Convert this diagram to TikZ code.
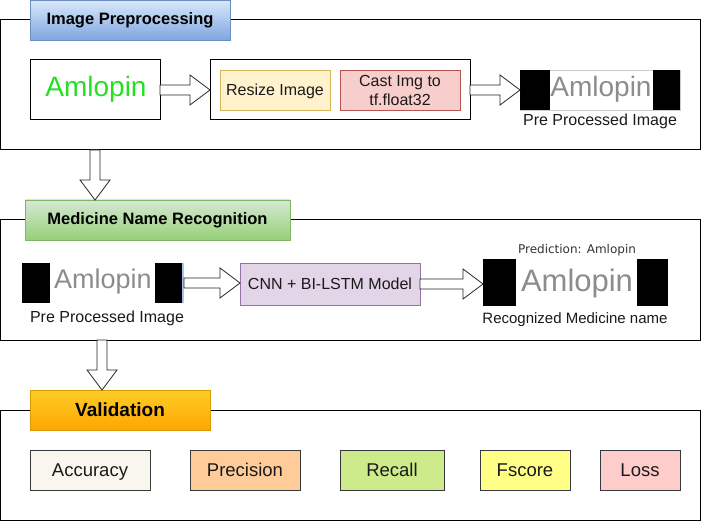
\documentclass[tikz,border=0pt]{standalone}
\usepackage{fontspec}
\setmainfont{Liberation Sans}
\newfontfamily\dejavu{DejaVu Sans}
\usetikzlibrary{calc}
\definecolor{txt}{HTML}{1A1A1A}
\definecolor{hwgreen}{HTML}{22E022}
\definecolor{hwgray}{HTML}{8C8C8C}
\definecolor{bluetop}{HTML}{DAE8FC}
\definecolor{bluebot}{HTML}{7EA6E0}
\definecolor{blueedge}{HTML}{6C8EBF}
\definecolor{greentop}{HTML}{D5E8D4}
\definecolor{greenbot}{HTML}{97D077}
\definecolor{greenedge}{HTML}{82B366}
\definecolor{orangetop}{HTML}{FFCD28}
\definecolor{orangebot}{HTML}{FFA500}
\definecolor{orangeedge}{HTML}{D79B00}
\definecolor{yellowfill}{HTML}{FFF2CC}
\definecolor{yellowedge}{HTML}{D6B656}
\definecolor{redfill}{HTML}{F8CECC}
\definecolor{rededge}{HTML}{B85450}
\definecolor{purplefill}{HTML}{E1D5E7}
\definecolor{purpleedge}{HTML}{9673A6}
\definecolor{metricedge}{HTML}{36393D}
\definecolor{accfill}{HTML}{F9F7ED}
\definecolor{precfill}{HTML}{FFCC99}
\definecolor{recfill}{HTML}{CDEB8B}
\definecolor{fscfill}{HTML}{FFFF88}
\definecolor{lossfill}{HTML}{FFCCCC}
\definecolor{stripblue}{HTML}{A9C4EB}
\newcommand{\hblockarrow}[2]{%
  \coordinate (hatip) at (#1 -| #2);
  \draw[blockarrow] ($(#1)+(0,-5)$) -- ($(hatip)+(-20,-5)$) -- ($(hatip)+(-20,-15)$) -- (hatip)
    -- ($(hatip)+(-20,15)$) -- ($(hatip)+(-20,5)$) -- ($(#1)+(0,5)$) -- cycle;}
\newcommand{\vblockarrow}[2]{%
  \coordinate (vatip) at (#1 |- #2);
  \draw[blockarrow] ($(#1)+(-5,0)$) -- ($(vatip)+(-5,-20)$) -- ($(vatip)+(-15,-20)$) -- (vatip)
    -- ($(vatip)+(15,-20)$) -- ($(vatip)+(5,-20)$) -- ($(#1)+(5,0)$) -- cycle;}
\begin{document}
\begin{tikzpicture}[x=1pt,y=-1pt,
  every node/.style={inner sep=0pt, outer sep=0pt, anchor=north west, text=txt},
  frame/.style={draw=black, line width=1pt},
  titlebox/.style={draw, line width=0.8pt, font=\fontsize{16.5}{19}\selectfont\bfseries, text=black, text height=12pt, text depth=2pt},
  sbox/.style={draw, line width=0.8pt, align=center, font=\fontsize{16}{19}\selectfont},
  oneline/.style={text height=12pt, text depth=0pt},
  metric/.style={draw=metricedge, line width=0.8pt, minimum height=40pt, font=\fontsize{18.5}{22}\selectfont, text height=13.3pt, text depth=1.3pt},
  blackblk/.style={fill=black, draw=none},
  hand/.style={anchor=center, font=\fontsize{#1}{#1}\selectfont, text=hwgray},
  caption/.style={anchor=center, font=\fontsize{16}{19}\selectfont},
  blockarrow/.style={draw=black!85, fill=white, line width=0.8pt, line join=miter}
]
\useasboundingbox (0,0) rectangle (701,521);

% ---------- Image Preprocessing ----------
\node[frame, minimum width=700pt, minimum height=130pt] (f1) at (0,20) {};
\node[titlebox, draw=blueedge, top color=bluetop, bottom color=bluebot, minimum width=200pt, minimum height=40pt] (t1) at (30,0) {Image Preprocessing};

\node[draw=black, line width=1pt, minimum width=130pt, minimum height=60pt] (hw) at (30,60) {};
\node[hand=28, text=hwgreen] (hwtext) at (96,89) {Amlopin};

\node[draw=black, line width=1pt, minimum width=260pt, minimum height=60pt] (cont) at (210,60) {};
\node[sbox, oneline, fill=yellowfill, draw=yellowedge, minimum width=110pt, minimum height=40pt] (resize) at (220,70) {Resize Image};
\node[sbox, fill=redfill, draw=rededge, minimum width=120pt, minimum height=40pt] (cast) at (340,70) {Cast Img to\\tf.float32};

\node[draw=black!20, line width=0.8pt, minimum width=160pt, minimum height=40pt] (pp1) at (520,70) {};
\node[blackblk, minimum width=30pt, minimum height=40pt] (pp1l) at (520,70) {};
\node[blackblk, minimum width=27pt, minimum height=40pt] (pp1r) at (653,70) {};
\node[hand=28] (pp1text) at (601,89) {Amlopin};
\node[caption] (pp1cap) at (600,121) {Pre Processed Image};

\hblockarrow{hw.east}{cont.west}
\hblockarrow{cont.east}{pp1.west}

% ---------- Medicine Name Recognition ----------
\node[frame, minimum width=700pt, minimum height=120pt] (f2) at (0,220) {};
\node[titlebox, draw=greenedge, top color=greentop, bottom color=greenbot, minimum width=265pt, minimum height=40pt] (t2) at (25,200) {Medicine Name Recognition};

\node[draw=none, minimum width=160pt, minimum height=40pt] (img2) at (22,263) {};
\node[blackblk, minimum width=28pt, minimum height=40pt] (img2l) at (22,263) {};
\node[blackblk, minimum width=27pt, minimum height=40pt] (img2r) at (155,263) {};
\node[fill=stripblue, minimum width=2pt, minimum height=40pt] (strip) at (182,263) {};
\node[hand=27] (img2text) at (103,282) {Amlopin};
\node[caption] (img2cap) at (107,318) {Pre Processed Image};

\node[sbox, oneline, fill=purplefill, draw=purpleedge, minimum width=180pt, minimum height=42pt] (cnn) at (240,263) {CNN + BI-LSTM Model};

\node[draw=none, minimum width=185pt, minimum height=47pt] (img3) at (483,259) {};
\node[blackblk, minimum width=33pt, minimum height=47pt] (img3l) at (483,259) {};
\node[blackblk, minimum width=31pt, minimum height=47pt] (img3r) at (637,259) {};
\node[hand=31] (img3text) at (577,283) {Amlopin};
\node[anchor=center, font=\dejavu\fontsize{12}{14}\selectfont, text=black!80] (pred) at (577,250) {Prediction: Amlopin};
\node[caption, font=\fontsize{15}{18}\selectfont] (img3cap) at (575,320) {Recognized Medicine name};

\hblockarrow{strip.east}{cnn.west}
\hblockarrow{cnn.east}{img3.west}

% ---------- Validation ----------
\node[frame, minimum width=700pt, minimum height=110pt] (f3) at (0,410) {};
\node[titlebox, draw=orangeedge, top color=orangetop, bottom color=orangebot, minimum width=180pt, minimum height=40pt, font=\fontsize{19}{22}\selectfont\bfseries, text height=13.7pt, text depth=1.7pt] (t3) at (30,390) {Validation};

\node[metric, fill=accfill, minimum width=120pt] (acc) at (30,450) {Accuracy};
\node[metric, fill=precfill, minimum width=110pt] (prec) at (190,450) {Precision};
\node[metric, fill=recfill, minimum width=104pt] (rec) at (340,450) {Recall};
\node[metric, fill=fscfill, minimum width=90pt] (fsc) at (480,450) {Fscore};
\node[metric, fill=lossfill, minimum width=80pt] (loss) at (600,450) {Loss};

% ---------- down arrows ----------
\coordinate (d1) at (95,150);
\coordinate (d2) at (102,340);
\vblockarrow{d1}{t2.north}
\vblockarrow{d2}{t3.north}
\end{tikzpicture}
\end{document}
